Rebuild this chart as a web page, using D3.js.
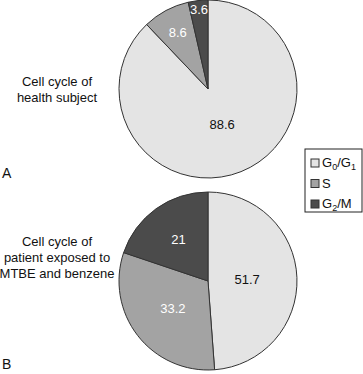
<!DOCTYPE html>
<html>
<head>
<meta charset="utf-8">
<script src="https://cdn.jsdelivr.net/npm/d3@7"></script>
<style>
  body { margin: 0; background: #fff; }
  text { font-family: "Liberation Sans", Arial, sans-serif; }
</style>
</head>
<body>
<div id="chart"></div>
<script>
// Phases of the cell cycle
const phases = ["G0/G1", "S", "G2/M"];
// Percentages per phase, panel A and panel B
const healthValues = [88.6, 8.6, 3.6];
const patientValues = [51.7, 33.2, 21];
const panelLetters = ["A", "B"];
const panelTitles = [
    ["Cell cycle of", "health subject"],
    ["Cell cycle of", "patient exposed to", "MTBE and benzene"]
];

const width = 363;
const height = 374;
const radius = 89;

const color = d3.scaleOrdinal().domain(phases).range(["#e4e4e4", "#a3a3a3", "#4b4b4b"]);
const labelColor = d3.scaleOrdinal().domain(phases).range(["#111", "#fff", "#fff"]);

const svg = d3.select("#chart").append("svg")
    .attr("width", width)
    .attr("height", height);

const pie = d3.pie().sort(null).value(d => d.value);
const arc = d3.arc().innerRadius(0).outerRadius(radius);

// label distance from centre, as share of radius (as placed in the figure)
const labelPos = [
    [0.43, 0.72, 0.9],
    [0.44, 0.5, 0.57]
];

const panels = [
    { values: healthValues, cx: 208, cy: 89, titleY: 86, letterY: 178 },
    { values: patientValues, cx: 208, cy: 281, titleY: 246, letterY: 369 }
];

panels.forEach((p, i) => {
    const data = phases.map((ph, j) => ({ phase: ph, value: p.values[j] }));
    const g = svg.append("g").attr("transform", `translate(${p.cx},${p.cy})`);

    const slices = g.selectAll("g.slice")
        .data(pie(data))
        .join("g")
        .attr("class", "slice");

    slices.append("path")
        .attr("d", arc)
        .attr("fill", d => color(d.data.phase))
        .attr("stroke", "#333")
        .attr("stroke-width", 1);

    slices.append("text")
        .attr("transform", (d, j) => {
            const r = radius * labelPos[i][j];
            const a = (d.startAngle + d.endAngle) / 2;
            return `translate(${Math.sin(a) * r},${-Math.cos(a) * r})`;
        })
        .attr("text-anchor", "middle")
        .attr("dy", "0.35em")
        .attr("font-size", 13)
        .attr("fill", d => labelColor(d.data.phase))
        .text(d => d.data.value);

    // panel title on the left
    svg.append("text")
        .attr("x", 57)
        .attr("y", p.titleY)
        .attr("text-anchor", "middle")
        .attr("font-size", 13)
        .attr("fill", "#111")
        .selectAll("tspan")
        .data(panelTitles[i])
        .join("tspan")
        .attr("x", 57)
        .attr("dy", (d, k) => k === 0 ? 0 : 16)
        .text(d => d);

    svg.append("text")
        .attr("x", 2)
        .attr("y", p.letterY)
        .attr("font-size", 14)
        .attr("fill", "#111")
        .text(panelLetters[i]);
});

// Legend
const legend = svg.append("g").attr("transform", "translate(305,149)");
legend.append("rect")
    .attr("width", 57)
    .attr("height", 63)
    .attr("fill", "#fff")
    .attr("stroke", "#222");

const items = legend.selectAll("g.item")
    .data(phases)
    .join("g")
    .attr("class", "item")
    .attr("transform", (d, i) => `translate(6,${10 + i * 20.5})`);

items.append("rect")
    .attr("width", 8)
    .attr("height", 8)
    .attr("fill", d => color(d))
    .attr("stroke", "#333");

const subs = { "G0/G1": [["G", ""], ["0", "sub"], ["/G", ""], ["1", "sub"]], "S": [["S", ""]], "G2/M": [["G", ""], ["2", "sub"], ["/M", ""]] };

items.append("text")
    .attr("x", 11)
    .attr("y", 8)
    .attr("font-size", 13)
    .attr("fill", "#111")
    .each(function(d) {
        const t = d3.select(this);
        let shifted = false;
        subs[d].forEach(([s, kind]) => {
            const sp = t.append("tspan").text(s);
            if (kind === "sub") {
                sp.attr("font-size", 9).attr("dy", shifted ? 0 : 3);
                shifted = true;
            } else if (shifted) {
                sp.attr("dy", -3);
                shifted = false;
            }
        });
    });
</script>
</body>
</html>
